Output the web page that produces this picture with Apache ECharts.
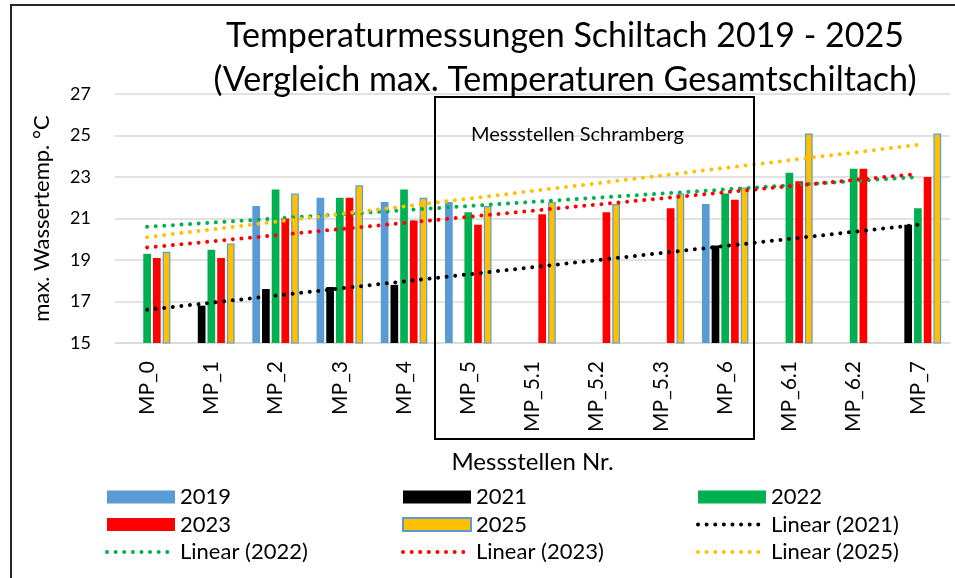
<!DOCTYPE html>
<html>
<head>
<meta charset="utf-8">
<script src="https://cdn.jsdelivr.net/npm/echarts@6/dist/echarts.min.js"></script>
<style>
html, body { margin: 0; padding: 0; background: #fff; }
#chart { width: 955px; height: 578px; }
</style>
</head>
<body>
<div id="chart"></div>
<script>
// Messstellen
var categories = ['MP_0', 'MP_1', 'MP_2', 'MP_3', 'MP_4', 'MP_5', 'MP_5.1', 'MP_5.2', 'MP_5.3', 'MP_6', 'MP_6.1', 'MP_6.2', 'MP_7'];
// max. Wassertemperaturen pro Jahr
var t2019 = [null, null, 21.6, 22.0, 21.8, 21.8, null, null, null, 21.7, null, null, null];
var t2021 = [null, 16.8, 17.6, 17.7, 17.8, null, null, null, null, 19.7, null, null, 20.7];
var t2022 = [19.3, 19.5, 22.4, 22.0, 22.4, 21.3, null, null, null, 22.2, 23.2, 23.4, 21.5];
var t2023 = [19.1, 19.1, 21.0, 22.0, 20.9, 20.7, 21.2, 21.3, 21.5, 21.9, 22.8, 23.4, 23.0];
var t2025 = [19.4, 19.8, 22.2, 22.6, 22.0, 21.6, 21.8, 21.7, 22.2, 22.5, 25.1, null, 25.1];
var lin2021 = [16.6, 20.7];
var lin2022 = [20.6, 23.0];
var lin2023 = [19.6, 23.15];
var lin2025 = [20.1, 24.55];
var yTicks = [15, 17, 19, 21, 23, 25, 27];

var FONT = 'Lato';
var DOTS = [0.01, 8.6];

initPage();

function initPage(){
	var myChart = echarts.init(document.getElementById('chart'), null, { renderer: 'canvas' });
	myChart.setOption(buildOption());
}
//
function trendData (ends){
	var arr = [];
	for (var i = 0; i < categories.length; i++) arr[i] = null;
	arr[0] = ends[0];
	arr[categories.length - 1] = ends[1];
	return arr;
}
//
function barSeries (name, data, color, border){
	var s = {
		name: name,
		type: 'bar',
		data: data,
		barWidth: 7.7,
		barGap: '26%',
		itemStyle: { color: color }
	};
	if (border) {
		s.itemStyle.borderColor = border;
		s.itemStyle.borderWidth = 1.2;
	}
	return s;
}
//
function lineSeries (name, ends, color){
	return {
		name: name,
		type: 'line',
		data: trendData(ends),
		connectNulls: true,
		symbol: 'none',
		z: 5,
		lineStyle: { color: color, width: 4, type: DOTS, cap: 'round' },
		itemStyle: { color: color }
	};
}
//
function legendItem (name){
	if (name.indexOf('Linear') === 0) {
		return {
			name: name,
			itemStyle: { color: 'rgba(0,0,0,0)', borderWidth: 0 },
			lineStyle: { width: 4, type: DOTS, cap: 'round' }
		};
	}
	return { name: name, icon: 'rect' };
}
//
function legendCol (left, names){
	var data = [];
	for (var i = 0; i < names.length; i++) data.push(legendItem(names[i]));
	return {
		orient: 'vertical',
		left: left,
		top: 481,
		itemWidth: 68,
		itemHeight: 13,
		itemGap: 5.5,
		data: data,
		textStyle: { fontFamily: FONT, fontSize: 22, color: '#000', lineHeight: 22 }
	};
}
//
function buildOption (){
	return {
		animation: false,
		backgroundColor: '#fff',
		title: {
			text: 'Temperaturmessungen Schiltach 2019 - 2025\n(Vergleich max. Temperaturen Gesamtschiltach)',
			left: 560,
			textAlign: 'center',
			top: 9,
			textStyle: { fontFamily: FONT, fontSize: 34, fontWeight: 'normal', color: '#000', lineHeight: 44 }
		},
		legend: [
			legendCol(100, ['2019', '2023', 'Linear (2022)']),
			legendCol(396, ['2021', '2025', 'Linear (2023)']),
			legendCol(691, ['2022', 'Linear (2021)', 'Linear (2025)'])
		],
		grid: { left: 115, right: 5, top: 94, bottom: 235 },
		xAxis: {
			type: 'category',
			data: categories,
			name: 'Messstellen Nr.',
			nameLocation: 'middle',
			nameGap: 107,
			nameTextStyle: { fontFamily: FONT, fontSize: 24, color: '#000' },
			axisLine: { lineStyle: { color: '#d9d9d9', width: 1.5 } },
			axisTick: { show: false },
			axisLabel: { rotate: 90, margin: 18, fontFamily: FONT, fontSize: 21, color: '#000' }
		},
		yAxis: {
			type: 'value',
			min: yTicks[0],
			max: yTicks[yTicks.length - 1],
			interval: 2,
			name: 'max. Wassertemp. °C',
			nameLocation: 'middle',
			nameGap: 62,
			nameTextStyle: { fontFamily: FONT, fontSize: 22, color: '#000' },
			axisLine: { show: false },
			axisTick: { show: false },
			axisLabel: { margin: 24, fontFamily: FONT, fontSize: 18, color: '#000' },
			splitLine: { lineStyle: { color: '#d9d9d9', width: 1.5 } }
		},
		series: [
			barSeries('2019', t2019, '#5b9bd5'),
			barSeries('2021', t2021, '#000000'),
			barSeries('2022', t2022, '#00b050'),
			barSeries('2023', t2023, '#ff0000'),
			barSeries('2025', t2025, '#ffc000', '#5b9bd5'),
			lineSeries('Linear (2021)', lin2021, '#000000'),
			lineSeries('Linear (2022)', lin2022, '#00b050'),
			lineSeries('Linear (2023)', lin2023, '#ff0000'),
			lineSeries('Linear (2025)', lin2025, '#ffc000')
		],
		graphic: [
			{
				type: 'rect',
				shape: { x: 11, y: 5, width: 960, height: 600 },
				style: { fill: null, stroke: '#262626', lineWidth: 2 },
				silent: true
			},
			{
				type: 'rect',
				shape: { x: 435, y: 97, width: 319, height: 342 },
				style: { fill: null, stroke: '#000', lineWidth: 2 },
				z: 10,
				silent: true
			},
			{
				type: 'text',
				x: 471,
				y: 135,
				style: { text: 'Messstellen Schramberg', fontFamily: FONT, fontSize: 20, fill: '#000', textVerticalAlign: 'middle' },
				z: 10,
				silent: true
			}
		]
	};
}
</script>
</body>
</html>
